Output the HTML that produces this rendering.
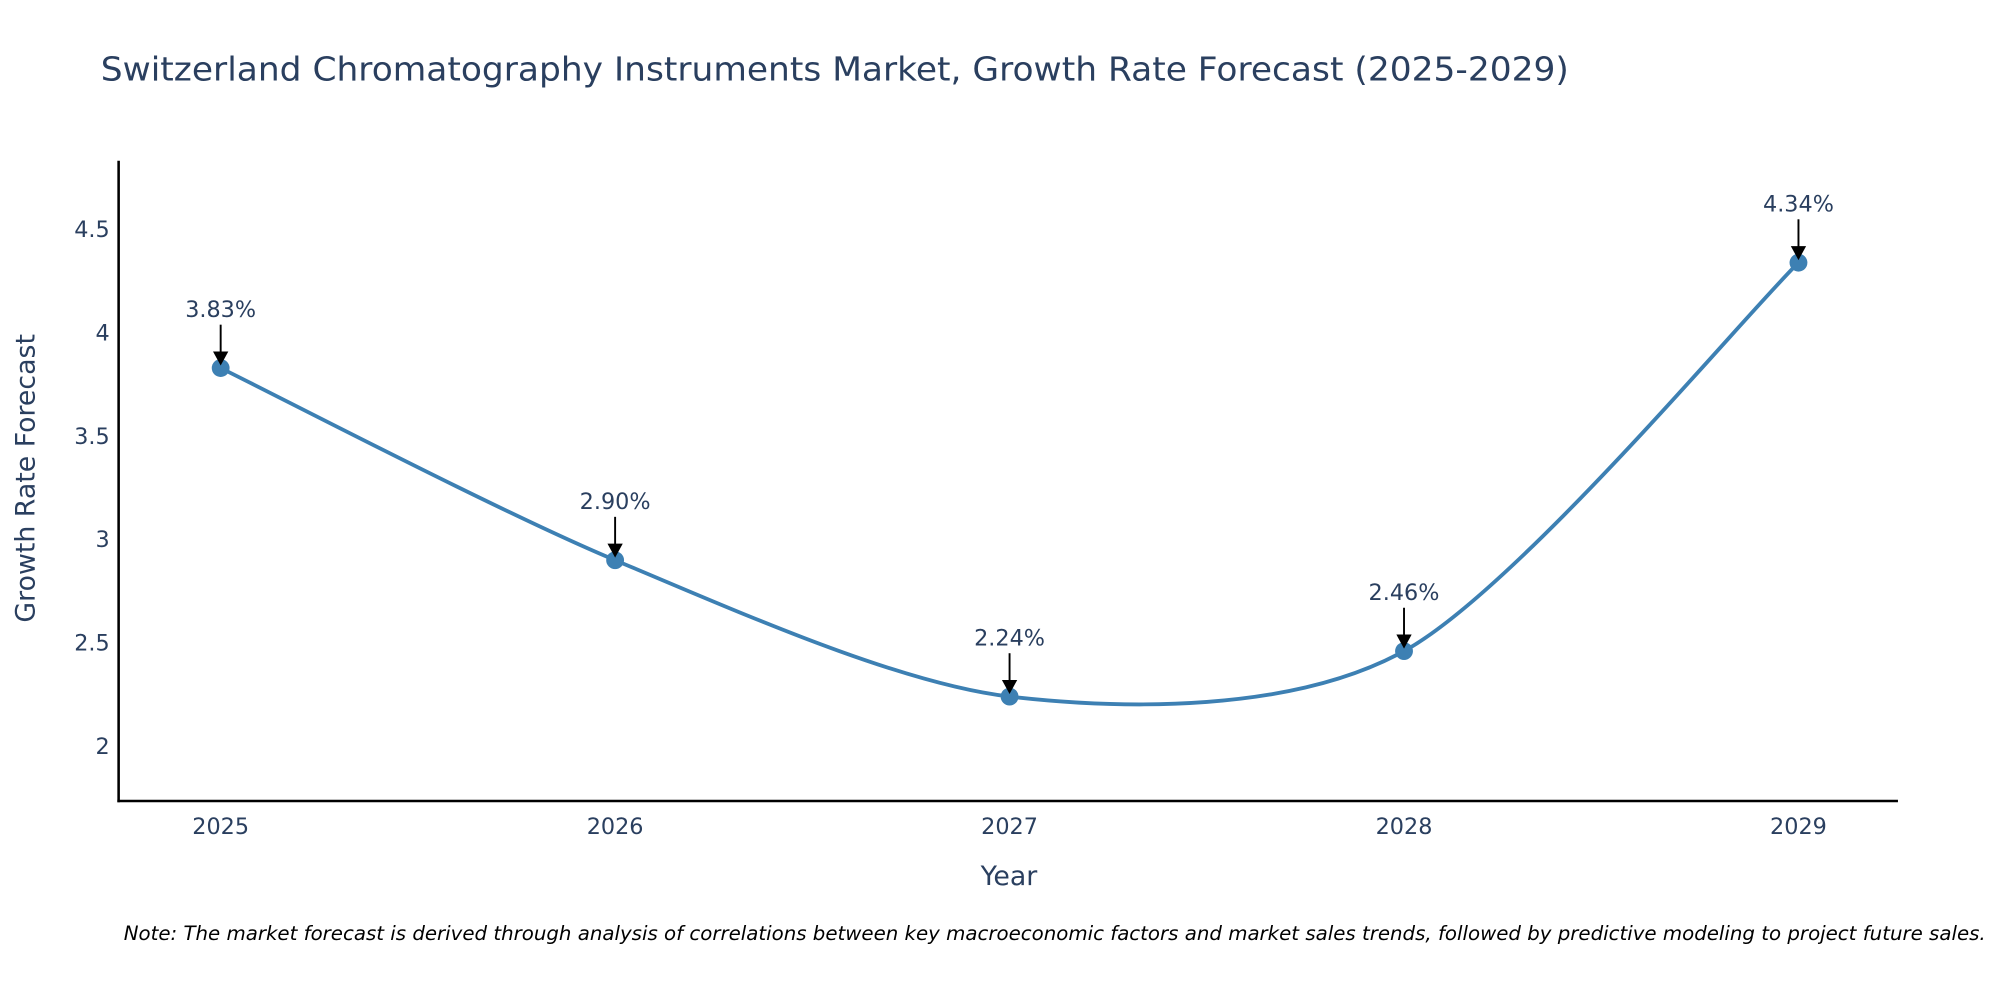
<!DOCTYPE html>
<html><head><meta charset="utf-8"><style>
html,body{margin:0;padding:0;background:#fff;width:2000px;height:1000px;overflow:hidden}
svg{display:block;font-family:"DejaVu Sans","Liberation Sans",sans-serif}
</style></head><body>
<svg id="chart" width="2000" height="1000" viewBox="0 0 1568 784" xmlns="http://www.w3.org/2000/svg">
<rect width="1568" height="784" fill="#fff"/>
<text x="79" y="63" font-size="25.5" fill="#2a3f5f" textLength="1151" lengthAdjust="spacingAndGlyphs">Switzerland Chromatography Instruments Market, Growth Rate Forecast (2025-2029)</text>
<g id="yticks"></g><g id="xticks"></g>
<line x1="93" y1="126" x2="93" y2="629" stroke="#000" stroke-width="2"/>
<line x1="92" y1="628" x2="1488" y2="628" stroke="#000" stroke-width="2"/>
<path id="line" fill="none" stroke="#3d80b3" stroke-width="3"/>
<g id="points"></g><g id="annots"></g>
<text x="791" y="694" font-size="21" fill="#2a3f5f" text-anchor="middle">Year</text>
<text transform="translate(27,375) rotate(-90)" font-size="21" fill="#2a3f5f" text-anchor="middle">Growth Rate Forecast</text>
<text x="97" y="737" font-size="15.5" font-style="italic" fill="#000">Note: The market forecast is derived through analysis of correlations between key macroeconomic factors and market sales trends, followed by predictive modeling to project future sales.</text>
</svg>
<script>
const years = [2025, 2026, 2027, 2028, 2029];
const rates = [3.83, 2.90, 2.24, 2.46, 4.34];
const labels = ["3.83%", "2.90%", "2.24%", "2.46%", "4.34%"];
const yTickVals = [2, 2.5, 3, 3.5, 4, 4.5];
const yTickLabels = ["2", "2.5", "3", "3.5", "4", "4.5"];

const NS = "http://www.w3.org/2000/svg";
function xs(y){ return 173 + (y - years[0]) * (1410 - 173) / (years[years.length-1] - years[0]); }
function ys(v){ return 585 - (v - 2) * 162; }
function mk(tag, attrs, parent){ const e = document.createElementNS(NS, tag); for (const k in attrs) e.setAttribute(k, attrs[k]); parent.appendChild(e); return e; }

const yt = document.getElementById('yticks');
yTickVals.forEach((v, i) => {
  const t = mk('text', {x: 86, y: ys(v) + 6, 'font-size': 17.5, fill: '#2a3f5f', 'text-anchor': 'end'}, yt);
  t.textContent = yTickLabels[i];
  
  
});
const xt = document.getElementById('xticks');
years.forEach(y => {
  const t = mk('text', {x: xs(y), y: 654, 'font-size': 17.5, fill: '#2a3f5f', 'text-anchor': 'middle'}, xt);
  t.textContent = String(y);
  
  
});

const pts = years.map((y, i) => [xs(y), ys(rates[i])]);
const k = 7;
let d = `M${pts[0][0]},${pts[0][1]}`;
for (let i = 0; i < pts.length - 1; i++) {
  const p0 = pts[Math.max(0, i-1)], p1 = pts[i], p2 = pts[i+1], p3 = pts[Math.min(pts.length-1, i+2)];
  const c1 = [p1[0] + (p2[0]-p0[0])/k, p1[1] + (p2[1]-p0[1])/k];
  const c2 = [p2[0] - (p3[0]-p1[0])/k, p2[1] - (p3[1]-p1[1])/k];
  d += ` C${c1[0]},${c1[1]} ${c2[0]},${c2[1]} ${p2[0]},${p2[1]}`;
}
document.getElementById('line').setAttribute('d', d);

const pg = document.getElementById('points'), ag = document.getElementById('annots');
pts.forEach((p, i) => {
  const c = mk('circle', {cx: p[0], cy: p[1], r: 7, fill: '#3d80b3'}, pg);
  
  
  const l = mk('line', {x1: p[0], y1: p[1] - 34, x2: p[0], y2: p[1] - 12, stroke: '#000', 'stroke-width': 1.5}, ag);
  
  
  const h = mk('path', {d: `M${p[0]-6},${p[1]-13} L${p[0]+6},${p[1]-13} L${p[0]},${p[1]-2} Z`, fill: '#000'}, ag);
  
  
  const t = mk('text', {x: p[0], y: p[1] - 40, 'font-size': 17.5, fill: '#2a3f5f', 'text-anchor': 'middle'}, ag);
  t.textContent = labels[i];
  
  
});
</script>
</body></html>
